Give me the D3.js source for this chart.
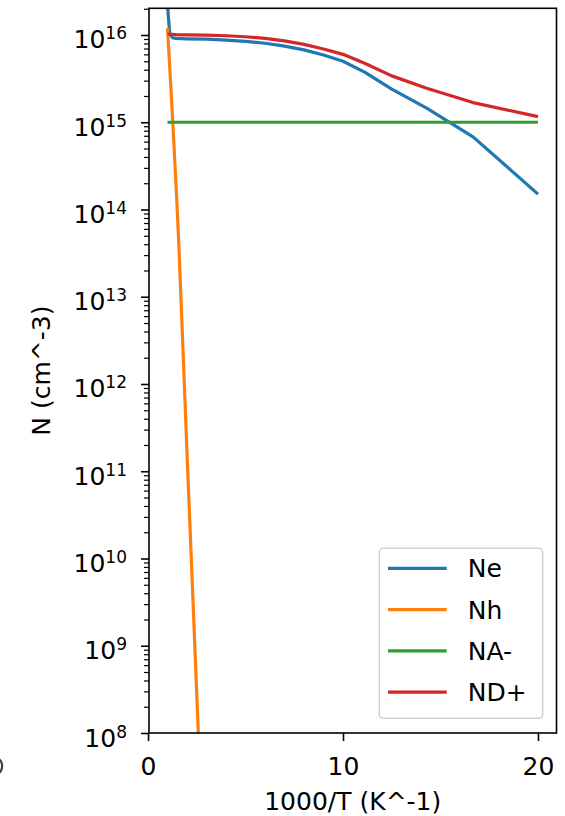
<!DOCTYPE html>
<html>
<head>
<meta charset="utf-8">
<script src="https://cdn.jsdelivr.net/npm/d3@7"></script>
<style>
  html, body { margin: 0; padding: 0; background: #fff; }
  svg { display: block; }
  text { font-family: "DejaVu Sans", sans-serif; fill: #000; }
</style>
</head>
<body>
<div id="chart"></div>
<script>
// ---- data ----
const xNe = [1, 1.11, 1.25, 1.43, 2, 3, 4, 5, 6, 7, 8, 9, 10, 11.11, 12.5, 14.29, 16.67, 20];
const neValues = [2.2e16, 1.05e16, 9.3e15, 9.15e15, 9.05e15, 8.95e15, 8.75e15, 8.45e15, 8.05e15, 7.45e15, 6.75e15, 5.9e15, 5.0e15, 3.75e15, 2.4e15, 1.45e15, 6.8e14, 1.5e14];
const xNh = [1, 1.59, 2.0, 2.58, 2.75];
const nhValues = [1.2e16, 3.5e13, 1.6e11, 1e8, 1.0e7];
const xNA = [1, 20];
const naValues = [1e15, 1e15];
const xND = [1, 1.11, 1.25, 1.43, 2, 3, 4, 5, 6, 7, 8, 9, 10, 11.11, 12.5, 14.29, 16.67, 20];
const ndValues = [1.02e16, 1.02e16, 1.015e16, 1.01e16, 1.005e16, 9.95e15, 9.8e15, 9.55e15, 9.15e15, 8.55e15, 7.8e15, 6.9e15, 6.0e15, 4.75e15, 3.4e15, 2.45e15, 1.68e15, 1.16e15];
const seriesNames = ["Ne", "Nh", "NA-", "ND+"];
const seriesColors = ["#1f77b4", "#ff7f0e", "#2ca02c", "#d62728"];
const xTickValues = [0, 10, 20];
const yTickExponents = [8, 9, 10, 11, 12, 13, 14, 15, 16];
const xLabel = "1000/T (K^-1)";
const yLabel = "N (cm^-3)";

// ---- layout ----
const W = 565, H = 816;
const plot = { left: 149, right: 556.5, top: 8.3, bottom: 733 };
const xDomain = [0.05, 20.95];
const yDomain = [1e8, Math.pow(10, 16.306)];
const FS = 25;

const svg = d3.select("#chart").append("svg").attr("width", W).attr("height", H);

const x = d3.scaleLinear().domain(xDomain).range([plot.left, plot.right]);
const y = d3.scaleLog().domain(yDomain).range([plot.bottom, plot.top]);

svg.append("clipPath").attr("id", "clip").append("rect")
  .attr("x", plot.left).attr("y", plot.top)
  .attr("width", plot.right - plot.left).attr("height", plot.bottom - plot.top);

// series
const series = [
  { xs: xNe, vs: neValues, curve: d3.curveLinear },
  { xs: xNh, vs: nhValues, curve: d3.curveMonotoneX },
  { xs: xNA, vs: naValues, curve: d3.curveLinear },
  { xs: xND, vs: ndValues, curve: d3.curveLinear }
];
const g = svg.append("g").attr("clip-path", "url(#clip)");
series.forEach((s, i) => {
  const pts = s.xs.map((xv, j) => [xv, s.vs[j]]);
  const line = d3.line().x(d => x(d[0])).y(d => y(d[1])).curve(s.curve);
  g.append("path").datum(pts)
    .attr("d", line)
    .attr("fill", "none")
    .attr("stroke", seriesColors[i])
    .attr("stroke-width", 3.2)
    .attr("stroke-linejoin", "round")
    .attr("stroke-linecap", "butt");
});

// x axis
const xAxis = d3.axisBottom(x).tickValues(xTickValues).tickFormat(d3.format("d"))
  .tickSize(8).tickPadding(16);
const gx = svg.append("g").attr("transform", `translate(0,${plot.bottom})`).call(xAxis);
gx.select(".domain").remove();
gx.selectAll("line").attr("stroke", "#000").attr("stroke-width", 1.6);
gx.selectAll("text").attr("font-size", FS).attr("font-family", "DejaVu Sans");

// y axis major
const yMajor = yTickExponents.map(e => Math.pow(10, e));
const yAxis = d3.axisLeft(y).tickValues(yMajor).tickFormat(() => "").tickSize(8);
const gy = svg.append("g").attr("transform", `translate(${plot.left},0)`).call(yAxis);
gy.select(".domain").remove();
gy.selectAll("line").attr("stroke", "#000").attr("stroke-width", 1.6);
gy.selectAll(".tick").each(function(d) {
  const e = Math.round(Math.log10(d));
  const t = d3.select(this).append("text")
    .attr("x", -22).attr("y", 13)
    .attr("text-anchor", "end").attr("font-size", FS);
  t.append("tspan").text("10");
  t.append("tspan").attr("font-size", 17).attr("dy", -9).text(String(e));
});

// y axis minor
const yMinor = [];
for (let e = 8; e <= 16; e++) for (let m = 2; m <= 9; m++) {
  const v = m * Math.pow(10, e);
  if (v >= yDomain[0] && v <= yDomain[1]) yMinor.push(v);
}
const gym = svg.append("g").attr("transform", `translate(${plot.left},0)`)
  .call(d3.axisLeft(y).tickValues(yMinor).tickFormat(() => "").tickSize(5));
gym.select(".domain").remove();
gym.selectAll("line").attr("stroke", "#000").attr("stroke-width", 1.2);

// spines
svg.append("rect")
  .attr("x", plot.left).attr("y", plot.top)
  .attr("width", plot.right - plot.left).attr("height", plot.bottom - plot.top)
  .attr("fill", "none").attr("stroke", "#000").attr("stroke-width", 1.6);

// axis labels
svg.append("text").attr("x", (plot.left + plot.right) / 2).attr("y", 810)
  .attr("text-anchor", "middle").attr("font-size", FS).text(xLabel);
svg.append("text")
  .attr("transform", `translate(49.5,${(plot.top + plot.bottom) / 2}) rotate(-90)`)
  .attr("text-anchor", "middle").attr("font-size", FS).text(yLabel);

// sliver of a cropped neighbouring glyph at the far left edge
svg.append("path")
  .attr("d", d3.arc()({ innerRadius: 8, outerRadius: 10.2, startAngle: 0.35, endAngle: Math.PI - 0.35 }))
  .attr("transform", "translate(-7,766)")
  .attr("fill", "#000").attr("fill-opacity", 0.75);

// legend
const lg = svg.append("g");
lg.append("rect").attr("x", 379.3).attr("y", 548.3).attr("width", 163.4).attr("height", 170)
  .attr("rx", 4).attr("fill", "#fff").attr("fill-opacity", 0.8)
  .attr("stroke", "#d0d0d0").attr("stroke-width", 1.5);
seriesNames.forEach((name, i) => {
  const cy = 568.3 + i * 41.3;
  lg.append("line").attr("x1", 388).attr("x2", 446.7).attr("y1", cy).attr("y2", cy)
    .attr("stroke", seriesColors[i]).attr("stroke-width", 3.2);
  lg.append("text").attr("x", 467.7).attr("y", cy).attr("dy", "0.36em")
    .attr("font-size", FS).text(name);
});
</script>
</body>
</html>
